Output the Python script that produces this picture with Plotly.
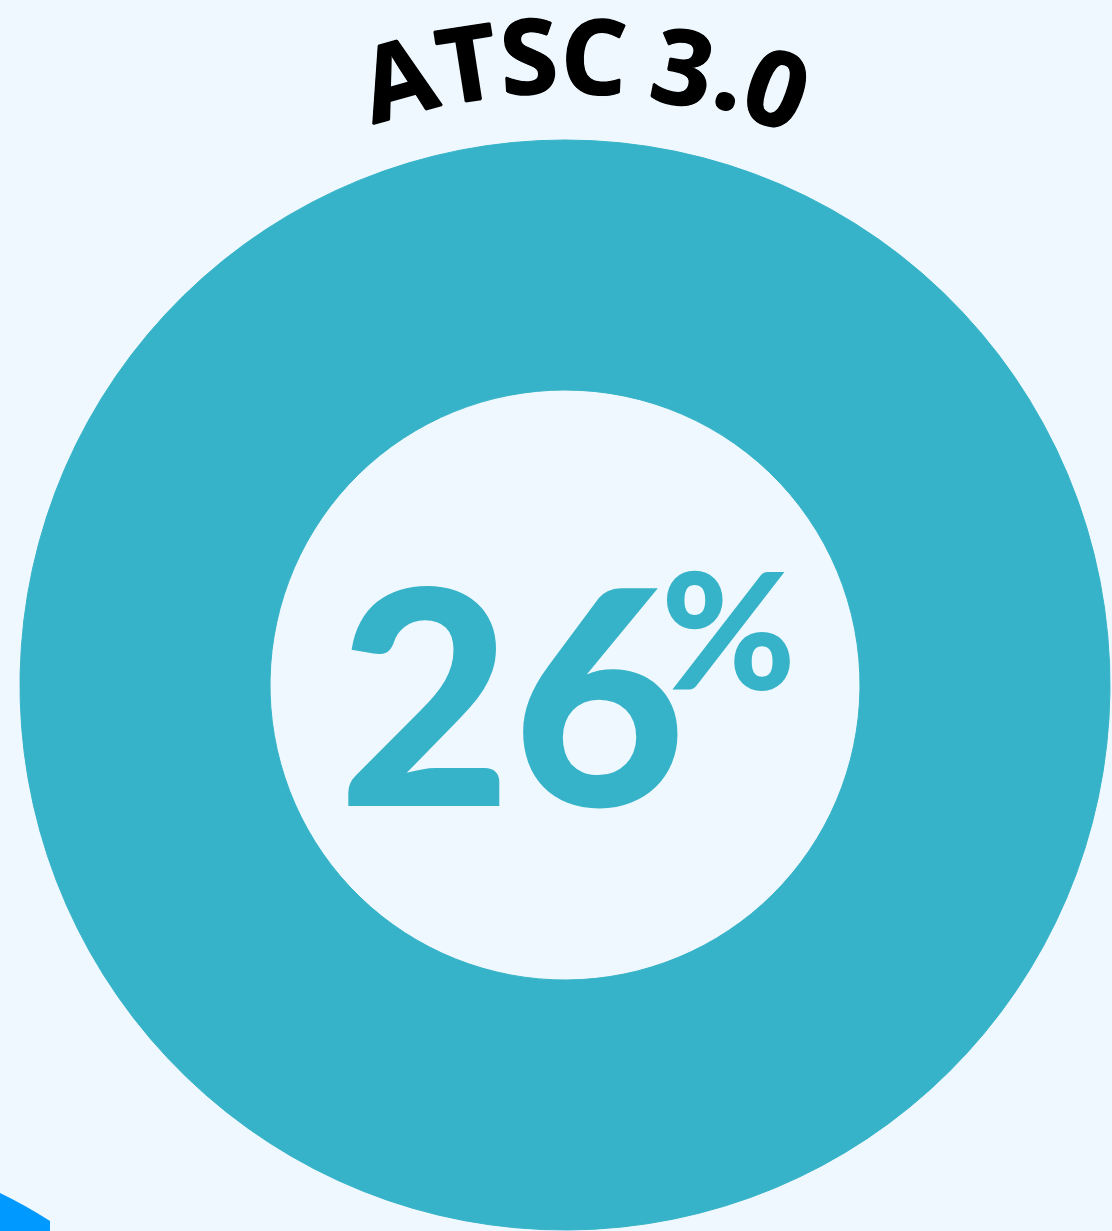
import math
import plotly.graph_objects as go

# Share of stations reported for ATSC 3.0
labels = ["ATSC 3.0", "Other"]
values = [26, 74]
title_text = "ATSC 3.0"

W, H = 1112, 1231
BG = "#EEF8FE"
TEAL = "#36B3C8"
BLUE = "#0099FF"

# donut geometry in pixels
cx, cy, r_out, r_in = 565, 685, 545, 295

fig = go.Figure()
fig.add_trace(go.Pie(
    labels=labels,
    values=values,
    hole=r_in / r_out,
    sort=False,
    direction="clockwise",
    marker=dict(colors=[TEAL, TEAL], line=dict(width=1, color=TEAL)),
    textinfo="none",
    hoverinfo="label+percent",
    showlegend=False,
    domain=dict(x=[(cx - r_out) / W, (cx + r_out) / W],
                y=[1 - (cy + r_out) / H, 1 - (cy - r_out) / H]),
))

annotations = []

# soft outline that thickens the title glyphs
thick = ", ".join(f"{dx}px {dy}px 0 #000" for dx, dy in
                  [(0.8, 0), (-0.8, 0), (0, 0.8), (0, -0.8)]) + ", 0 0 0.8px #000"

# curved title: one rotated glyph per character along an arc above the ring
char_angles = [-15.4, -8.9, -3.3, 2.6, None, 10.8, 15.4, 19.5]
char_radius = [632, 632, 633, 632, None, 632, 638, 636]
for ch, ang, rad in zip(title_text, char_angles, char_radius):
    if ang is None:
        continue
    a = math.radians(ang)
    px = cx + rad * math.sin(a)
    py = cy - rad * math.cos(a)
    annotations.append(dict(
        text=f"<b>{ch}</b>", x=px / W, y=1 - py / H, xref="paper", yref="paper",
        xanchor="center", yanchor="middle", showarrow=False, textangle=ang,
        font=dict(family="Open Sans", size=104, color="#000000", weight=800,
                  shadow=thick),
    ))

# centre value
pct = values[0]
annotations.append(dict(
    text=f"{pct}", x=512 / W, y=1 - 690 / H, xref="paper", yref="paper",
    xanchor="center", yanchor="middle", showarrow=False,
    font=dict(family="Lato", size=300, color=TEAL, weight=900),
))
annotations.append(dict(
    text="%", x=728 / W, y=1 - 627 / H, xref="paper", yref="paper",
    xanchor="center", yanchor="middle", showarrow=False,
    font=dict(family="Lato", size=163, color=TEAL, weight=900),
))

# edge of the neighbouring ring peeking in at the lower-left corner
shapes = [dict(
    type="path", xref="paper", yref="paper",
    path=(f"M 0,{1 - 1193 / H} Q {25 / W},{1 - 1205 / H} {50 / W},{1 - 1221 / H} "
          f"L {50 / W},0 L 0,0 Z"),
    fillcolor=BLUE, line=dict(width=0), layer="below",
)]

fig.update_layout(
    width=W, height=H,
    margin=dict(l=0, r=0, t=0, b=0),
    paper_bgcolor=BG, plot_bgcolor=BG,
    annotations=annotations,
    shapes=shapes,
)

fig.write_html("out.html")
